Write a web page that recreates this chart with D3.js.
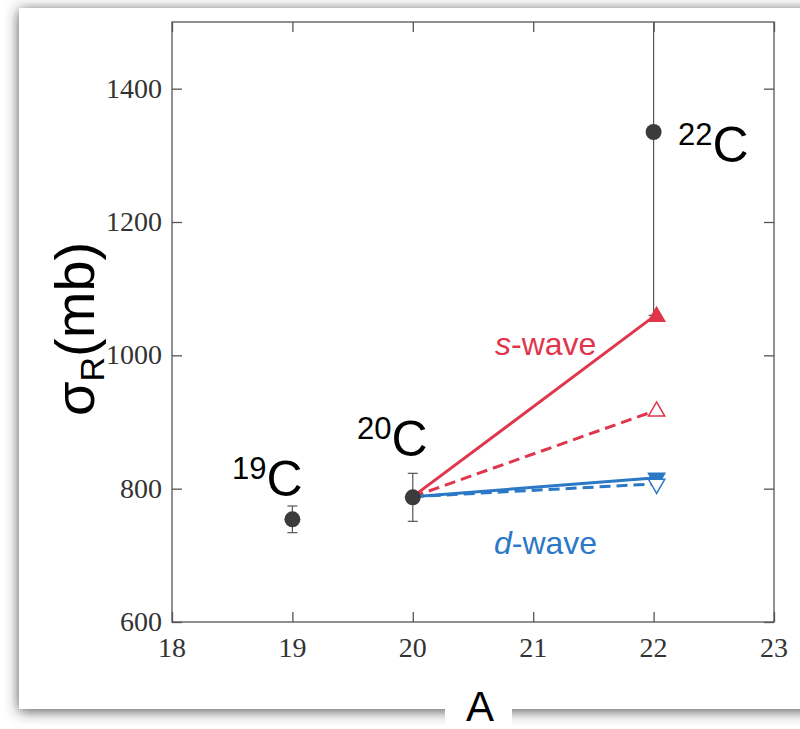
<!DOCTYPE html>
<html>
<head>
<meta charset="utf-8">
<script src="https://cdn.jsdelivr.net/npm/d3@7"></script>
<style>
  body { margin: 0; background: #fff; }
  svg { display: block; }
</style>
</head>
<body>
<div id="chart"></div>
<script>
// measured nuclei: mass number, cross section (mb), error
var isotopes = ["19C", "20C", "22C"];
var massNumbers = [19, 20, 22];
var sigmaR = [754, 787, 1335];
var sigmaErr = [20, 36, 275];

// calculations from 20C to 22C
var waveNames = ["s-wave", "s-wave", "d-wave", "d-wave"];
var waveStart = [788, 788, 788, 788];
var waveEnd = [1058, 916, 816, 807];
var waveFilled = [true, false, true, false];

var xTicks = [18, 19, 20, 21, 22, 23];
var yTicks = [600, 800, 1000, 1200, 1400];

var W = 800, H = 729;
var red = "#e1354b", blue = "#2b78c6", axisCol = "#555", dotCol = "#3b3b3b";

var svg = d3.select("#chart").append("svg")
    .attr("width", W)
    .attr("height", H);

var defs = svg.append("defs");
var shadow = defs.append("filter")
    .attr("id", "shadow")
    .attr("x", "-10%").attr("y", "-10%")
    .attr("width", "120%").attr("height", "120%");
shadow.append("feDropShadow")
    .attr("dx", 0).attr("dy", 2)
    .attr("stdDeviation", 7)
    .attr("flood-color", "#333")
    .attr("flood-opacity", 0.85);

defs.append("clipPath").attr("id", "plotclip")
    .append("rect").attr("x", 172).attr("y", 22).attr("width", 602).attr("height", 600);

// card
svg.append("rect")
    .attr("x", 19).attr("y", 8)
    .attr("width", 830).attr("height", 701)
    .attr("fill", "#fff")
    .attr("filter", "url(#shadow)");

var x = d3.scaleLinear().domain([18, 23]).range([172, 774]);
var y = d3.scaleLinear().domain([600, 1500]).range([622, 22]);

// frame
svg.append("rect")
    .attr("x", x(18)).attr("y", y(1500))
    .attr("width", x(23) - x(18)).attr("height", y(600) - y(1500))
    .attr("fill", "none").attr("stroke", axisCol).attr("stroke-width", 1.3);

var tickLen = 10;
var axes = [
  d3.axisBottom(x).tickValues(xTicks).tickSize(-tickLen).tickFormat(""),
  d3.axisTop(x).tickValues(xTicks).tickSize(-tickLen).tickFormat(""),
  d3.axisLeft(y).tickValues(yTicks).tickSize(-tickLen).tickFormat(""),
  d3.axisRight(y).tickValues(yTicks).tickSize(-tickLen).tickFormat("")
];
var offs = [[0, y(600)], [0, y(1500)], [x(18), 0], [x(23), 0]];
axes.forEach(function(ax, i) {
  var g = svg.append("g").attr("transform", "translate(" + offs[i][0] + "," + offs[i][1] + ")").call(ax);
  g.select(".domain").remove();
  g.selectAll("line").attr("stroke", axisCol).attr("stroke-width", 1.3);
});

// tick labels
svg.append("g").selectAll("text")
    .data(xTicks).enter().append("text")
    .attr("x", function(d) { return x(d); })
    .attr("y", 657)
    .attr("text-anchor", "middle")
    .attr("font-family", "Liberation Serif, serif")
    .attr("font-size", 28)
    .attr("fill", "#333")
    .text(function(d) { return d; });

svg.append("g").selectAll("text")
    .data(yTicks).enter().append("text")
    .attr("x", 162)
    .attr("y", function(d) { return y(d) + 9; })
    .attr("text-anchor", "end")
    .attr("font-family", "Liberation Serif, serif")
    .attr("font-size", 28)
    .attr("fill", "#333")
    .text(function(d) { return d; });

var plot = svg.append("g").attr("clip-path", "url(#plotclip)");

// error bars
var eb = plot.selectAll("g.eb")
    .data(massNumbers).enter().append("g").attr("class", "eb");
eb.append("line")
    .attr("x1", function(d) { return x(d); })
    .attr("x2", function(d) { return x(d); })
    .attr("y1", function(d, i) { return y(sigmaR[i] - sigmaErr[i]); })
    .attr("y2", function(d, i) { return y(sigmaR[i] + sigmaErr[i]); })
    .attr("stroke", axisCol).attr("stroke-width", 1.2);
eb.selectAll("line.cap")
    .data(function(d, i) { return [[d, sigmaR[i] - sigmaErr[i]], [d, sigmaR[i] + sigmaErr[i]]]; })
    .enter().append("line").attr("class", "cap")
    .attr("x1", function(d) { return x(d[0]) - 5; })
    .attr("x2", function(d) { return x(d[0]) + 5; })
    .attr("y1", function(d) { return y(d[1]); })
    .attr("y2", function(d) { return y(d[1]); })
    .attr("stroke", axisCol).attr("stroke-width", 1.2);

// wave lines
var waveCol = function(i) { return waveNames[i] === "s-wave" ? red : blue; };
plot.selectAll("line.wave")
    .data(waveEnd).enter().append("line").attr("class", "wave")
    .attr("x1", x(20)).attr("y1", function(d, i) { return y(waveStart[i]); })
    .attr("x2", x(22)).attr("y2", function(d) { return y(d); })
    .attr("stroke", function(d, i) { return waveCol(i); })
    .attr("stroke-width", 3)
    .attr("stroke-dasharray", function(d, i) { return waveFilled[i] ? null : "11,6"; });

// points
plot.selectAll("circle.pt")
    .data(massNumbers).enter().append("circle").attr("class", "pt")
    .attr("cx", function(d) { return x(d); })
    .attr("cy", function(d, i) { return y(sigmaR[i]); })
    .attr("r", 8)
    .attr("fill", dotCol);

// triangles
var tri = d3.symbol().type(d3.symbolTriangle).size(115);
plot.selectAll("path.tri")
    .data(waveEnd).enter().append("path").attr("class", "tri")
    .attr("d", tri)
    .attr("transform", function(d, i) {
      var rot = waveNames[i] === "d-wave" ? " rotate(180)" : "";
      return "translate(" + (x(22) + 3) + "," + y(d) + ")" + rot;
    })
    .attr("fill", function(d, i) { return waveFilled[i] ? waveCol(i) : "#fff"; })
    .attr("stroke", function(d, i) { return waveCol(i); })
    .attr("stroke-width", 1.5);

// isotope labels
var labelPos = [[232, 496], [357, 456], [678, 162]];
isotopes.forEach(function(name, i) {
  var t = svg.append("text")
      .attr("x", labelPos[i][0]).attr("y", labelPos[i][1])
      .attr("font-family", "Liberation Sans, Arial, sans-serif")
      .attr("fill", "#000");
  t.append("tspan").attr("font-size", 31).attr("dy", -17).text(name.slice(0, 2));
  t.append("tspan").attr("font-size", 50).attr("dy", 17).text(name.slice(2));
});

// wave labels
[["s", "-wave", red, 495, 355], ["d", "-wave", blue, 494, 554]].forEach(function(w) {
  var t = svg.append("text")
      .attr("x", w[3]).attr("y", w[4])
      .attr("font-family", "Liberation Sans, Arial, sans-serif")
      .attr("font-size", 32)
      .attr("fill", w[2]);
  t.append("tspan").attr("font-style", "italic").text(w[0]);
  t.append("tspan").text(w[1]);
});

// y axis title
var yt = svg.append("text")
    .attr("transform", "translate(94,416) rotate(-90)")
    .attr("font-family", "Liberation Sans, Arial, sans-serif")
    .attr("font-size", 56)
    .attr("fill", "#000");
yt.append("tspan").text("σ");
yt.append("tspan").attr("font-size", 34).attr("dy", 10).text("R");
yt.append("tspan").attr("dy", -10).text("(mb)");

// x axis title on its white patch
svg.append("rect")
    .attr("x", 445).attr("y", 698)
    .attr("width", 67).attr("height", 31)
    .attr("fill", "#fff");
svg.append("text")
    .attr("x", 480).attr("y", 721)
    .attr("text-anchor", "middle")
    .attr("font-family", "Liberation Sans, Arial, sans-serif")
    .attr("font-size", 42)
    .attr("fill", "#000")
    .text("A");
</script>
</body>
</html>
